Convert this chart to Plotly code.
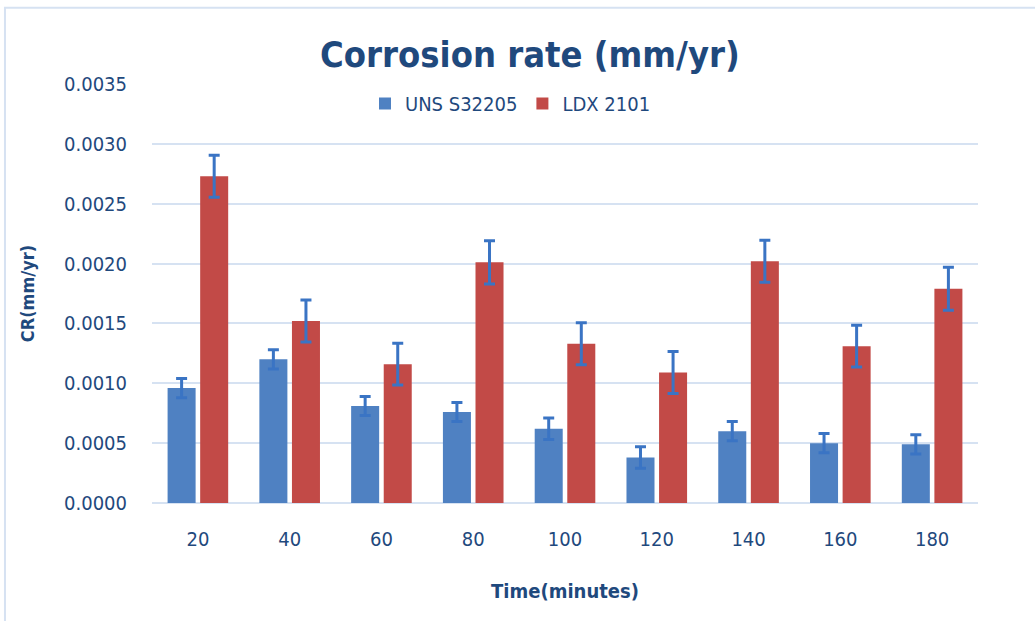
import plotly.graph_objects as go

categories = ["20", "40", "60", "80", "100", "120", "140", "160", "180"]
uns_values = [0.00096, 0.00120, 0.00081, 0.00076, 0.00062, 0.00038, 0.00060, 0.00050, 0.00049]
uns_errors = [0.00008, 0.00008, 0.00008, 0.00008, 0.00009, 0.00009, 0.00008, 0.00008, 0.00008]
ldx_values = [0.00273, 0.00152, 0.00116, 0.00201, 0.00133, 0.00109, 0.00202, 0.00131, 0.00179]
ldx_errors = [0.000175, 0.000175, 0.000175, 0.000180, 0.000175, 0.000175, 0.000175, 0.000175, 0.000180]
y_ticks = [0.0, 0.0005, 0.0010, 0.0015, 0.0020, 0.0025, 0.0030, 0.0035]

FONT = "DejaVu Sans Condensed, Liberation Sans Narrow, Roboto, sans-serif"
TXT = "#1f497d"
ERR = "#3a74c4"

fig = go.Figure()
fig.add_trace(go.Bar(
    name="UNS S32205", x=categories, y=uns_values,
    marker=dict(color="#4f81c2", line=dict(width=0)),
    error_y=dict(type="data", array=uns_errors, visible=True, color=ERR, thickness=3, width=5.5),
))
fig.add_trace(go.Bar(
    name="LDX 2101", x=categories, y=ldx_values,
    marker=dict(color="#c24a47", line=dict(width=0)),
    error_y=dict(type="data", array=ldx_errors, visible=True, color=ERR, thickness=3, width=5.5),
))

fig.update_layout(
    width=1035, height=621,
    margin=dict(l=152, r=57, t=84, b=118),
    paper_bgcolor="white", plot_bgcolor="white",
    barmode="group", bargap=0.29, bargroupgap=0.14,
    font=dict(family=FONT, color=TXT, size=20),
    title=dict(text="<b>Corrosion rate (mm/yr)</b>", x=0.512, xref="container", xanchor="center",
               y=0.912, yanchor="middle",
               font=dict(family=FONT, size=36, color=TXT)),
    legend=dict(orientation="h", x=0.434, xanchor="center", y=1.0, yanchor="top",
                font=dict(family=FONT, size=20, color=TXT), bgcolor="rgba(0,0,0,0)",
                itemwidth=30, traceorder="normal"),
    xaxis=dict(
        title=dict(text="<b>Time(minutes)</b>", font=dict(family=FONT, size=20, color=TXT), standoff=33),
        showgrid=False, showline=False, zeroline=False, ticks="", ticklabelstandoff=22,
        tickfont=dict(family=FONT, size=20, color=TXT),
    ),
    yaxis=dict(
        title=dict(text="<b>CR(mm/yr)</b>", font=dict(family=FONT, size=18, color=TXT), standoff=24),
        range=[0, 0.0035], tickvals=y_ticks, tickformat=".4f",
        showgrid=True, gridcolor="#d6e2f2", gridwidth=2,
        zeroline=True, zerolinecolor="#d6e2f2", zerolinewidth=2,
        showline=False, ticks="", ticklabelstandoff=24,
        tickfont=dict(family=FONT, size=20, color=TXT),
    ),
)

fig.add_shape(type="rect", xref="paper", yref="paper", x0=-0.178, x1=1.2, y0=-0.4, y1=1.182,
              line=dict(color="#d6e2f2", width=2), fillcolor="rgba(0,0,0,0)", layer="below")

fig.write_html("out.html", config={"displayModeBar": False},
               post_script="document.body.style.margin='0px';")
